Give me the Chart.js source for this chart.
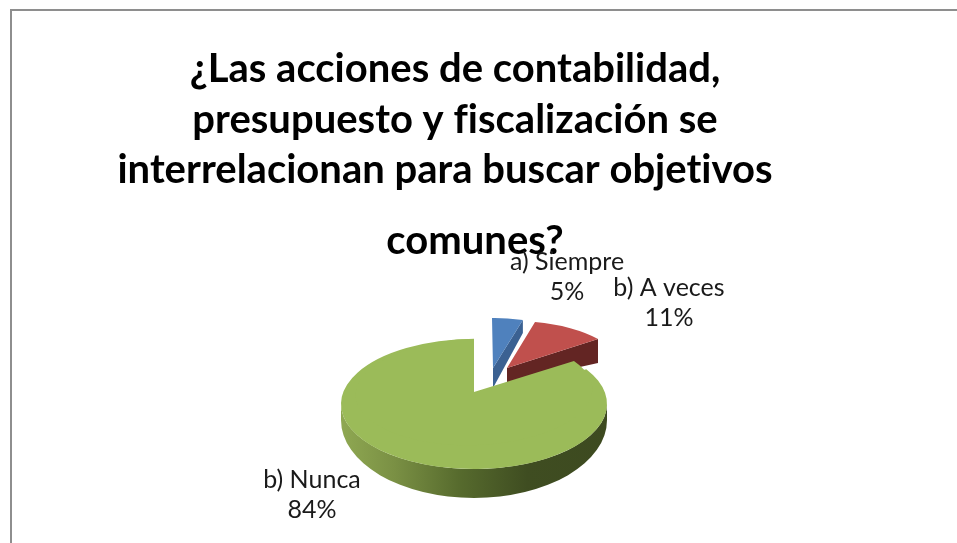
<!DOCTYPE html>
<html>
<head>
<meta charset="utf-8">
<style>
    html, body { margin: 0; padding: 0; background: #ffffff; }
    canvas { display: block; }
</style>
<script src="https://cdn.jsdelivr.net/npm/chart.js@4/dist/chart.umd.min.js"></script>
</head>
<body>
<canvas id="pie3d" width="957" height="543"></canvas>
<script>
let categories = ["a) Siempre", "b) A veces", "b) Nunca"]
let values = [5, 11, 84]
let titleLines = ["¿Las acciones de contabilidad,", "presupuesto y fiscalización se", "interrelacionan para buscar objetivos", "comunes?"]

let topColors = ["#4f81bd", "#c0504d", "#9bbb59"]
let wallColors = ["#3b6192", "#632523", "#3d4a20"]

let titleX = [455, 455, 445, 475]
let titleY = [82, 133, 183, 254]
let labelX = [567, 669, 312]
let labelY = [270, 296, 488]
let labelStep = 30

const pieRadius = 133

// the two small slices are pulled out towards the back, so each gets its own flattening
let sliceViews = [
    {x: 493, y: 368, a: 0.75, b: -0.01, c: 0.0075, d: 0.376, apexDepth: 20, outerDepth: 13},
    {x: 507, y: 368, a: 0.844, b: -0.0345, c: 0.0528, d: 0.352, apexDepth: 15, outerDepth: 24}
]
// big slice: the disc itself, then a smaller copy that lifts the tip of the notch
let discView = {x: 474, y: 404, a: 1, b: 0, c: 0, d: 65 / pieRadius}
let notchView = {x: 474, y: 392, a: 0.89, b: -0.022, c: 0, d: 0.4}
let rimCenterY = 420
let rimHeight = 78

let drawSliceTop = function (ctx, arc, v) {
    ctx.save()
    ctx.transform(v.a, v.b, v.c, v.d, v.x, v.y)
    ctx.translate(-arc.x, -arc.y)
    arc.draw(ctx)
    ctx.restore()
}

let drawPulledSlice = function (ctx, arc, i) {
    let v = sliceViews[i]
    let outerX = Math.cos(arc.endAngle) * arc.outerRadius
    let outerY = Math.sin(arc.endAngle) * arc.outerRadius
    let tipX = v.x + v.a * outerX + v.c * outerY
    let tipY = v.y + v.b * outerX + v.d * outerY

    // cut face along the trailing edge
    ctx.fillStyle = wallColors[i]
    ctx.beginPath()
    ctx.moveTo(v.x, v.y)
    ctx.lineTo(tipX, tipY)
    ctx.lineTo(tipX, tipY + v.outerDepth)
    ctx.lineTo(v.x, v.y + v.apexDepth)
    ctx.closePath()
    ctx.fill()

    drawSliceTop(ctx, arc, v)
}

let drawBigSlice = function (ctx, arc) {
    let r = arc.outerRadius
    let grad = ctx.createLinearGradient(discView.x - r, 0, discView.x + r, 0)
    grad.addColorStop(0, "#8fa852")
    grad.addColorStop(0.2, "#7a9044")
    grad.addColorStop(0.45, "#566a2d")
    grad.addColorStop(0.7, "#3f4d21")
    grad.addColorStop(1, "#3d4a20")

    ctx.fillStyle = grad
    ctx.beginPath()
    ctx.ellipse(discView.x, discView.y, r, r * discView.d, 0, 0, Math.PI)
    ctx.ellipse(discView.x, rimCenterY, r, rimHeight, 0, Math.PI, 0, true)
    ctx.closePath()
    ctx.fill()

    drawSliceTop(ctx, arc, discView)
    drawSliceTop(ctx, arc, notchView)
}

let flatPiePlugin = {
    id: "flatPie",
    beforeDatasetDraw(chart, args) {
        let ctx = chart.ctx
        let arcs = chart.getDatasetMeta(args.index).data
        drawPulledSlice(ctx, arcs[0], 0)
        drawPulledSlice(ctx, arcs[1], 1)
        drawBigSlice(ctx, arcs[2])
        return false
    },
    afterDraw(chart) {
        let ctx = chart.ctx
        ctx.save()

        // frame, open to the right and the bottom
        ctx.fillStyle = "#8e8e8e"
        ctx.fillRect(10, 9, 947, 2)
        ctx.fillRect(10, 9, 2, 534)

        ctx.fillStyle = "#000000"
        ctx.textAlign = "center"
        ctx.textBaseline = "alphabetic"
        ctx.letterSpacing = "0.01px" // keeps Lato from joining fi and ti
        ctx.font = "bold 40px Lato"
        titleLines.forEach((line, i) => ctx.fillText(line, titleX[i], titleY[i]))

        ctx.font = "25px Lato"
        ctx.fillStyle = "#1a1a1a"
        categories.forEach((name, i) => {
            ctx.fillText(name, labelX[i], labelY[i])
            ctx.fillText(values[i] + "%", labelX[i], labelY[i] + labelStep)
        })
        ctx.restore()
    }
}

new Chart(document.getElementById("pie3d"), {
    type: "pie",
    data: {
        labels: categories,
        datasets: [{data: values, backgroundColor: topColors, borderWidth: 0, radius: pieRadius}]
    },
    options: {
        responsive: false,
        animation: false,
        plugins: {legend: {display: false}, title: {display: false}, tooltip: {enabled: false}}
    },
    plugins: [flatPiePlugin]
})
</script>
</body>
</html>
